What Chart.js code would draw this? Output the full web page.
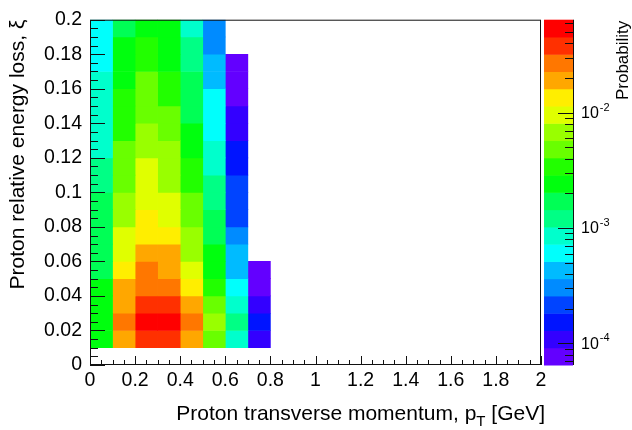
<!DOCTYPE html>
<html>
<head>
<meta charset="utf-8">
<script src="https://cdn.jsdelivr.net/npm/chart.js@4/dist/chart.umd.min.js"></script>
<style>
  html, body { margin: 0; padding: 0; background: #fff; }
</style>
</head>
<body>
<canvas id="hist" width="632" height="430"></canvas>
<script>
// pT bin centres [GeV] and xi bin edges
const ptCenters = [0.05, 0.15, 0.25, 0.35, 0.45, 0.55, 0.65, 0.75];
const xiEdges = [0.01, 0.02, 0.03, 0.04, 0.05, 0.06, 0.07, 0.08, 0.09, 0.1,
                 0.11, 0.12, 0.13, 0.14, 0.15, 0.16, 0.17, 0.18, 0.19, 0.2];

// probability per xi bin (bottom -> top), one array per pT column
const pt005 = [0.0024, 0.0024, 0.0024, 0.0024, 0.0017, 0.0017, 0.0017, 0.0017, 0.0017, 0.0012,
               0.0012, 0.00086, 0.00086, 0.00086, 0.00086, 0.00086, 0.00061, 0.00061, 0.00061];
const pt015 = [0.019, 0.027, 0.019, 0.019, 0.0135, 0.0096, 0.0096, 0.0068, 0.0068, 0.0048,
               0.0048, 0.0048, 0.0034, 0.0034, 0.0034, 0.0024, 0.0024, 0.0024, 0.0017];
const pt025 = [0.038, 0.054, 0.038, 0.027, 0.027, 0.019, 0.0135, 0.0135, 0.0096, 0.0096,
               0.0096, 0.0068, 0.0068, 0.0048, 0.0048, 0.0048, 0.0034, 0.0034, 0.0024];
const pt035 = [0.038, 0.054, 0.038, 0.027, 0.019, 0.019, 0.0135, 0.0096, 0.0096, 0.0068,
               0.0068, 0.0068, 0.0048, 0.0048, 0.0034, 0.0034, 0.0024, 0.0024, 0.0024];
const pt045 = [0.019, 0.027, 0.019, 0.0135, 0.0096, 0.0068, 0.0068, 0.0048, 0.0048, 0.0034,
               0.0034, 0.0024, 0.0024, 0.0017, 0.0017, 0.0017, 0.0012, 0.0012, 0.00086];
const pt055 = [0.0048, 0.0068, 0.0048, 0.0034, 0.0024, 0.0024, 0.0017, 0.0017, 0.0012, 0.0012,
               0.00086, 0.00086, 0.00061, 0.00061, 0.00061, 0.00043, 0.00043, 0.00031, 0.00031];
const pt065 = [0.00086, 0.0012, 0.00086, 0.00061, 0.00043, 0.00043, 0.00031, 0.00022, 0.00022, 0.00022,
               0.00015, 0.00015, 0.00011, 0.00011, 0.000077, 0.000077, 0.000077, null, null];
const pt075 = [0.00011, 0.00015, 0.00011, 0.000077, 0.000077, null, null, null, null, null,
               null, null, null, null, null, null, null, null, null];
const columns = [pt005, pt015, pt025, pt035, pt045, pt055, pt065, pt075];

// colour scale range and exponent labels
const zMin = 6.5e-5;
const zMax = 0.064;
const zLabels = [-2, -3, -4];
const nBands = 20;

const FONT = "'Liberation Sans', Arial, Helvetica, sans-serif";
Chart.defaults.font.family = FONT;
Chart.defaults.color = '#000';

const lzMin = Math.log10(zMin), lzMax = Math.log10(zMax);

// ROOT "pretty" palette, 50 colours picked down to nBands contours
function paletteColor(j) {
  const ci = Math.floor((j + 0.99) * 50 / nBands);
  const hue = 280 - (ci + 1) * 5.6;
  return 'hsl(' + hue + ', 100%, 50%)';
}
function bandColor(v) {
  const t = (Math.log10(v) - lzMin) / (lzMax - lzMin);
  const j = Math.min(nBands - 1, Math.max(0, Math.floor(t * nBands)));
  return paletteColor(j);
}
const plainNumber = v => String(Number(v.toFixed(4)));

const datasets = columns.map((vals, c) => ({
  data: vals.map((p, r) => p == null ? null : {x: ptCenters[c], y: [xiEdges[r], xiEdges[r + 1]], p: p})
            .filter(d => d),
  backgroundColor: ctx => bandColor(ctx.raw.p),
  borderWidth: 0,
  grouped: false,
  barPercentage: 1,
  categoryPercentage: 1
}));

const rootStyle = {
  id: 'rootStyle',
  afterDatasetsDraw(chart) {
    const {ctx, chartArea: a, scales: {x, y}} = chart;
    ctx.save();
    ctx.strokeStyle = '#111';
    ctx.lineWidth = 1;
    ctx.beginPath();
    for (let i = 0; i <= 40; i++) {
      const px = Math.round(x.getPixelForValue(i * 0.05)) + 0.5;
      ctx.moveTo(px, a.bottom);
      ctx.lineTo(px, a.bottom - (i % 4 === 0 ? 9 : 5));
    }
    for (let i = 0; i <= 40; i++) {
      const py = Math.round(y.getPixelForValue(i * 0.005)) + 0.5;
      ctx.moveTo(a.left, py);
      ctx.lineTo(a.left + (i % 4 === 0 ? 15 : 8), py);
    }
    ctx.stroke();
    ctx.strokeRect(a.left + 0.5, a.top + 0.5, a.right - a.left - 1, a.bottom - a.top - 1);
    ctx.restore();
  },
  afterDraw(chart) {
    const {ctx, chartArea: a, scales: {x, z}} = chart;
    ctx.save();

    // palette
    const x0 = a.right + 3, x1 = a.right + 32;
    for (let j = 0; j < nBands; j++) {
      const lo = Math.pow(10, lzMin + j * (lzMax - lzMin) / nBands);
      const hi = Math.pow(10, lzMin + (j + 1) * (lzMax - lzMin) / nBands);
      const yt = z.getPixelForValue(hi), yb = z.getPixelForValue(lo);
      ctx.fillStyle = paletteColor(j);
      ctx.fillRect(x0, yt, x1 - x0, yb - yt + 0.5);
    }
    ctx.strokeStyle = '#111';
    ctx.lineWidth = 1;
    ctx.beginPath();
    ctx.moveTo(x1 + 0.5, a.top);
    ctx.lineTo(x1 + 0.5, a.bottom);
    for (let e = -5; e <= -1; e++) {
      for (let k = 1; k <= 9; k++) {
        const v = k * Math.pow(10, e);
        if (v < zMin || v > zMax) continue;
        const py = Math.round(z.getPixelForValue(v)) + 0.5;
        ctx.moveTo(x1, py);
        ctx.lineTo(x1 - (k === 1 ? 15 : 8), py);
      }
    }
    ctx.stroke();

    // palette labels 10^n
    ctx.fillStyle = '#000';
    ctx.textBaseline = 'middle';
    ctx.textAlign = 'left';
    zLabels.forEach(e => {
      const py = z.getPixelForValue(Math.pow(10, e));
      ctx.font = '16px ' + FONT;
      ctx.fillText('10', x1 + 8, py + 1);
      const w = ctx.measureText('10').width;
      ctx.font = '11px ' + FONT;
      ctx.fillText('-' + (-e), x1 + 9 + w, py - 5);
    });

    // palette title
    ctx.save();
    ctx.translate(a.right + 82, a.top + 1);
    ctx.rotate(-Math.PI / 2);
    ctx.font = '17px ' + FONT;
    ctx.textAlign = 'right';
    ctx.textBaseline = 'middle';
    ctx.fillText('Probability', 0, 0);
    ctx.restore();

    // x axis title with subscript
    const base = a.bottom + 55;
    ctx.textBaseline = 'alphabetic';
    ctx.font = '21px ' + FONT;
    const t1 = 'Proton transverse momentum, p', t3 = ' [GeV]';
    const w1 = ctx.measureText(t1).width, w3 = ctx.measureText(t3).width;
    ctx.font = '15px ' + FONT;
    const w2 = ctx.measureText('T').width;
    let tx = x.right + 4 - (w1 + w2 + w3);
    ctx.font = '21px ' + FONT;
    ctx.fillText(t1, tx, base);
    ctx.font = '15px ' + FONT;
    ctx.fillText('T', tx + w1, base + 6);
    ctx.font = '21px ' + FONT;
    ctx.fillText(t3, tx + w1 + w2, base);
    ctx.restore();
  }
};

new Chart(document.getElementById('hist'), {
  type: 'bar',
  data: {datasets: datasets},
  options: {
    responsive: false,
    animation: false,
    layout: {padding: {top: 16, left: 0, right: 0, bottom: 0}},
    plugins: {legend: {display: false}, tooltip: {enabled: false}},
    scales: {
      x: {
        type: 'linear', position: 'bottom', min: 0, max: 2, offset: false,
        ticks: {stepSize: 0.2, autoSkip: false, maxRotation: 0, padding: 4, font: {size: 19.5},
                callback: plainNumber},
        grid: {display: false, drawTicks: false, offset: false},
        border: {display: false},
        afterFit: s => { s.height = 65; }
      },
      y: {
        type: 'linear', position: 'left', min: 0, max: 0.2,
        ticks: {stepSize: 0.02, padding: 8, font: {size: 19.5}, callback: plainNumber},
        grid: {display: false, drawTicks: false},
        border: {display: false},
        title: {display: true, text: 'Proton relative energy loss, ξ', align: 'end',
                font: {size: 21}, padding: {top: 6, bottom: 0}},
        afterFit: s => { s.width = 90; }
      },
      z: {
        type: 'logarithmic', position: 'right', min: zMin, max: zMax, bounds: 'data',
        ticks: {display: false},
        grid: {display: false, drawTicks: false},
        border: {display: false},
        afterFit: s => { s.width = 91; }
      }
    }
  },
  plugins: [rootStyle]
});
</script>
</body>
</html>
